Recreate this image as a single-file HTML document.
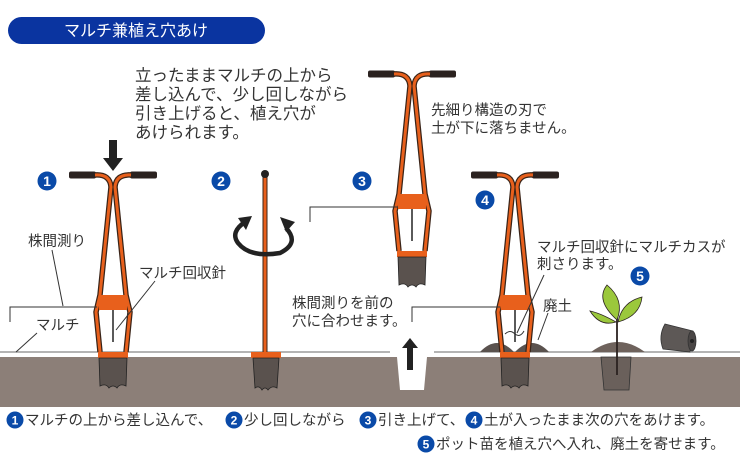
<!DOCTYPE html>
<html><head><meta charset="utf-8"><style>
html,body{margin:0;padding:0;background:#fff;}
svg{display:block;}
text{font-family:"Liberation Sans","Noto Sans CJK JP",sans-serif;fill:#333;}
</style></head><body>
<svg width="740" height="470" viewBox="0 0 740 470" xmlns="http://www.w3.org/2000/svg">
<defs>
<g id="tool">
  <rect x="-44" y="-3.5" width="27" height="7" rx="2" fill="#2b2220"/>
  <rect x="17" y="-3.5" width="27" height="7" rx="2" fill="#2b2220"/>
  <g fill="none" stroke-linejoin="round">
    <path d="M -18,0 Q -3,-1 -2,12 L -13,120 L -17,137 L -13,177" stroke="#3a2418" stroke-width="5.5"/>
    <path d="M 18,0 Q 3,-1 2,12 L 13,120 L 17,137 L 13,177" stroke="#3a2418" stroke-width="5.5"/>
    <path d="M -18,0 Q -3,-1 -2,12 L -13,120 L -17,137 L -13,177" stroke="#e8601c" stroke-width="3"/>
    <path d="M 18,0 Q 3,-1 2,12 L 13,120 L 17,137 L 13,177" stroke="#e8601c" stroke-width="3"/>
  </g>
  <rect x="-14" y="120" width="28" height="15" fill="#e8601c"/>
  <line x1="0" y1="135" x2="0" y2="167" stroke="#222" stroke-width="1.5"/>
  <rect x="-15" y="177" width="30" height="6" fill="#e8601c"/>
  <path d="M -14,183 L 14,183 L 13,211 Q 7,208 4,213 Q 0,209 -4,213 Q -7,208 -13,211 Z" fill="#5a524e" stroke="#222" stroke-width="0.8"/>
</g>
</defs>

<rect x="8" y="17" width="257" height="27" rx="13.5" fill="#0a34a0"/>
<text x="136" y="36" font-size="16" text-anchor="middle" style="fill:#fff">マルチ兼植え穴あけ</text>

<rect x="0" y="357" width="740" height="50" fill="#8c7f78"/>
<line x1="0" y1="352" x2="740" y2="352" stroke="#888" stroke-width="1.2"/>

<path d="M 397,352 L 427,352 L 427,357 L 424,390 L 400,390 L 397,357 Z" fill="#fff"/>
<line x1="390" y1="352" x2="434" y2="352" stroke="#fff" stroke-width="2"/>
<path d="M 410,338 L 402,348 L 407,348 L 407,370 L 413,370 L 413,348 L 418,348 Z" fill="#222"/>

<path d="M 480,352 Q 497,334 514,352 Z" fill="#5a524e"/>
<path d="M 515,352 Q 532,334 549,352 Z" fill="#5a524e"/>
<path d="M 591,352 Q 618,332 645,352 Z" fill="#6e625c"/>

<use href="#tool" transform="translate(113,175)"/>
<use href="#tool" transform="translate(412,74)"/>
<use href="#tool" transform="translate(515,175)"/>

<path d="M 113,171 L 103,158 L 109,158 L 109,140 L 117,140 L 117,158 L 123,158 Z" fill="#222"/>

<line x1="265" y1="176" x2="265" y2="352" stroke="#3a2418" stroke-width="5"/>
<line x1="265" y1="176" x2="265" y2="352" stroke="#e8601c" stroke-width="3"/>
<circle cx="265" cy="174" r="4" fill="#222"/>
<rect x="251" y="352" width="30" height="6" fill="#e8601c"/>
<path d="M 253,358 L 279,358 L 277,388 Q 272,385 268,390 Q 265,386 262,390 Q 259,385 255,388 Z" fill="#5a524e" stroke="#222" stroke-width="0.8"/>
<path d="M 245,222 Q 230,232 238,243 Q 250,258 280,253 Q 300,243 286,228" fill="none" stroke="#222" stroke-width="4.5"/>
<path d="M 252,216 L 238,218 L 246,230 Z" fill="#222"/>
<path d="M 280,217 L 295,222 L 286,232 Z" fill="#222"/>

<path d="M 601,357 L 631,357 L 629,390 L 604,390 Z" fill="#6a605b" stroke="#333" stroke-width="0.8"/>
<line x1="617" y1="375" x2="617" y2="305" stroke="#2b2220" stroke-width="1.8"/>
<path d="M 617,320 Q 595,300 607,285 Q 625,300 617,320 Z" fill="#9bc83c" stroke="#2b2220" stroke-width="0.8"/>
<path d="M 616,322 Q 600,313 590,311 Q 600,327 616,322 Z" fill="#9bc83c" stroke="#2b2220" stroke-width="0.8"/>
<path d="M 618,322 Q 622,302 642,297 Q 640,316 618,322 Z" fill="#9bc83c" stroke="#2b2220" stroke-width="0.8"/>
<path d="M 665,324 L 693,331 L 690,352 L 663,349 Q 658,336 665,324 Z" fill="#5d5856" stroke="#333" stroke-width="0.8"/>
<ellipse cx="692" cy="341" rx="4" ry="10" fill="#4a4645" stroke="#333" stroke-width="0.8"/>
<circle cx="692" cy="341" r="2" fill="#222"/>

<g fill="none" stroke="#333" stroke-width="1">
<path d="M 10,322 L 10,307 L 97,307"/>
<path d="M 52,250 L 63,306"/>
<path d="M 16,352 L 37,333"/>
<path d="M 155,281 L 116,330"/>
<path d="M 310,222 L 310,207 L 398,207"/>
<path d="M 412,322 L 412,307 L 500,307"/>
<path d="M 544,275 L 517,333"/>
<path d="M 548,313 L 538,340"/>
<path d="M 505,334 Q 510,329 515,334 Q 520,338 524,331"/>
</g>

<g font-size="14" font-weight="bold">
<circle cx="47" cy="181" r="9.5" fill="#0a4aa8"/><text x="47" y="186" text-anchor="middle" style="fill:#fff">1</text>
<circle cx="221" cy="181" r="9.5" fill="#0a4aa8"/><text x="221" y="186" text-anchor="middle" style="fill:#fff">2</text>
<circle cx="362" cy="181" r="9.5" fill="#0a4aa8"/><text x="362" y="186" text-anchor="middle" style="fill:#fff">3</text>
<circle cx="485" cy="200" r="9.5" fill="#0a4aa8"/><text x="485" y="205" text-anchor="middle" style="fill:#fff">4</text>
<circle cx="640" cy="276" r="9.5" fill="#0a4aa8"/><text x="640" y="281" text-anchor="middle" style="fill:#fff">5</text>
</g>

<g font-size="16.5">
<text x="135" y="81">立ったままマルチの上から</text>
<text x="135" y="100">差し込んで、少し回しながら</text>
<text x="135" y="119">引き上げると、植え穴が</text>
<text x="135" y="138">あけられます。</text>
</g>
<g font-size="14.5">
<text x="431" y="115">先細り構造の刃で</text>
<text x="431" y="133">土が下に落ちません。</text>
<text x="28" y="246">株間測り</text>
<text x="139" y="278">マルチ回収針</text>
<text x="36" y="330">マルチ</text>
<text x="292" y="308">株間測りを前の</text>
<text x="292" y="326">穴に合わせます。</text>
<text x="537" y="252">マルチ回収針にマルチカスが</text>
<text x="537" y="269">刺さります。</text>
<text x="543" y="311">廃土</text>
</g>

<g font-size="14.5">
<circle cx="15" cy="420" r="8.5" fill="#0a4aa8"/><text x="15" y="424.5" text-anchor="middle" font-size="12" font-weight="bold" style="fill:#fff">1</text>
<text x="25" y="425">マルチの上から差し込んで、</text>
<circle cx="234" cy="420" r="8.5" fill="#0a4aa8"/><text x="234" y="424.5" text-anchor="middle" font-size="12" font-weight="bold" style="fill:#fff">2</text>
<text x="244" y="425">少し回しながら</text>
<circle cx="368" cy="420" r="8.5" fill="#0a4aa8"/><text x="368" y="424.5" text-anchor="middle" font-size="12" font-weight="bold" style="fill:#fff">3</text>
<text x="378" y="425">引き上げて、</text>
<circle cx="474" cy="420" r="8.5" fill="#0a4aa8"/><text x="474" y="424.5" text-anchor="middle" font-size="12" font-weight="bold" style="fill:#fff">4</text>
<text x="484" y="425">土が入ったまま次の穴をあけます。</text>
<circle cx="426" cy="444" r="8.5" fill="#0a4aa8"/><text x="426" y="448.5" text-anchor="middle" font-size="12" font-weight="bold" style="fill:#fff">5</text>
<text x="436" y="449">ポット苗を植え穴へ入れ、廃土を寄せます。</text>
</g>
</svg>
</body></html>
